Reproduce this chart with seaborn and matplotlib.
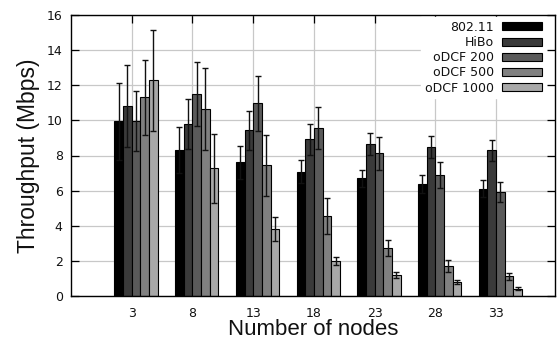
import numpy as np
import pandas as pd
import matplotlib
matplotlib.use("Agg")
import matplotlib.pyplot as plt
import seaborn as sns

nodes = ["3", "8", "13", "18", "23", "28", "33"]
series = ["802.11", "HiBo", "oDCF 200", "oDCF 500", "oDCF 1000"]

thr_80211 = [9.95, 8.31, 7.61, 7.08, 6.70, 6.38, 6.11]
thr_hibo = [10.80, 9.79, 9.43, 8.92, 8.67, 8.47, 8.31]
thr_odcf200 = [9.97, 11.49, 10.97, 9.57, 8.12, 6.87, 5.90]
thr_odcf500 = [11.31, 10.65, 7.44, 4.57, 2.75, 1.71, 1.12]
thr_odcf1000 = [12.28, 7.27, 3.82, 2.01, 1.20, 0.80, 0.42]

err_80211 = [2.20, 1.30, 0.93, 0.65, 0.50, 0.50, 0.47]
err_hibo = [2.33, 1.43, 1.10, 0.87, 0.63, 0.62, 0.60]
err_odcf200 = [1.73, 1.83, 1.55, 1.20, 0.92, 0.74, 0.57]
err_odcf500 = [2.13, 2.33, 1.75, 1.03, 0.45, 0.32, 0.19]
err_odcf1000 = [2.87, 1.95, 0.67, 0.23, 0.15, 0.10, 0.08]

y_ticks = [0, 2, 4, 6, 8, 10, 12, 14, 16]

values = [thr_80211, thr_hibo, thr_odcf200, thr_odcf500, thr_odcf1000]
errors = [err_80211, err_hibo, err_odcf200, err_odcf500, err_odcf1000]

rows = []
for s, vals, errs in zip(series, values, errors):
    for n, v, e in zip(nodes, vals, errs):
        rows.append({"nodes": n, "series": s, "thr": v, "err": e})
df = pd.DataFrame(rows)

colors = ["#000000", "#3a3a3a", "#5a5a5a", "#808080", "#a8a8a8"]

sns.set_theme(style="white")
plt.rcParams["font.family"] = ["DejaVu Sans"]

fig = plt.figure(figsize=(5.57, 3.41), dpi=100)
ax = fig.add_axes([71 / 557, 45 / 341, 484 / 557, 281 / 341])

bw = 1 / 7
sns.barplot(data=df, x="nodes", y="thr", hue="series", order=nodes,
            hue_order=series, palette=colors, width=5 * bw, saturation=1,
            edgecolor="black", linewidth=0.8, errorbar=None, ax=ax, zorder=2)

# error bars at the library-computed bar centers
for cont, s in zip(ax.containers, series):
    sub = df[df.series == s].set_index("nodes").loc[nodes]
    xs = [p.get_x() + p.get_width() / 2 for p in cont.patches]
    ax.errorbar(xs, sub["thr"].values, yerr=sub["err"].values, fmt="none",
                ecolor="#111111", elinewidth=1.0, capsize=2.3, capthick=1.0,
                zorder=3)

off = bw / 2
ax.set_xticks(np.arange(len(nodes)) - off)
ax.set_xticklabels(nodes)
ax.set_xlim(-1 - off, 6.97 - off)
ax.set_ylim(0, 16)
ax.set_yticks(y_ticks)

ax.grid(True, color="#c8c8c8", linewidth=0.9, zorder=0)
ax.set_axisbelow(True)
for sp in ax.spines.values():
    sp.set_visible(True)
    sp.set_color("black")
    sp.set_linewidth(1.0)

ax.tick_params(axis="both", which="both", direction="in", length=5.5,
               width=0.9, color="black", labelsize=9, labelcolor="#111111",
               top=True, right=True, bottom=True, left=True)
ax.tick_params(axis="x", pad=8)
ax.tick_params(axis="y", pad=6)

ax.set_xlabel("Number of nodes", fontsize=16, family="Liberation Sans",
              color="#111111", labelpad=-1)
ax.set_ylabel("Throughput (Mbps)", fontsize=16.5, family="Liberation Sans",
              color="#111111", labelpad=5)

sns.move_legend(ax, "upper right", bbox_to_anchor=(0.981, 0.993),
                markerfirst=False, title=None, frameon=True, fancybox=False,
                framealpha=1, facecolor="white", edgecolor="white",
                fontsize=9, handlelength=3.2, handleheight=0.6,
                handletextpad=0.64, labelspacing=0.18, borderpad=0.3,
                borderaxespad=0, labelcolor="#111111")
leg = ax.get_legend()
for h in leg.legend_handles:
    h.set_edgecolor("black")
    h.set_linewidth(0.8)

fig.savefig("out.png", dpi=100)
